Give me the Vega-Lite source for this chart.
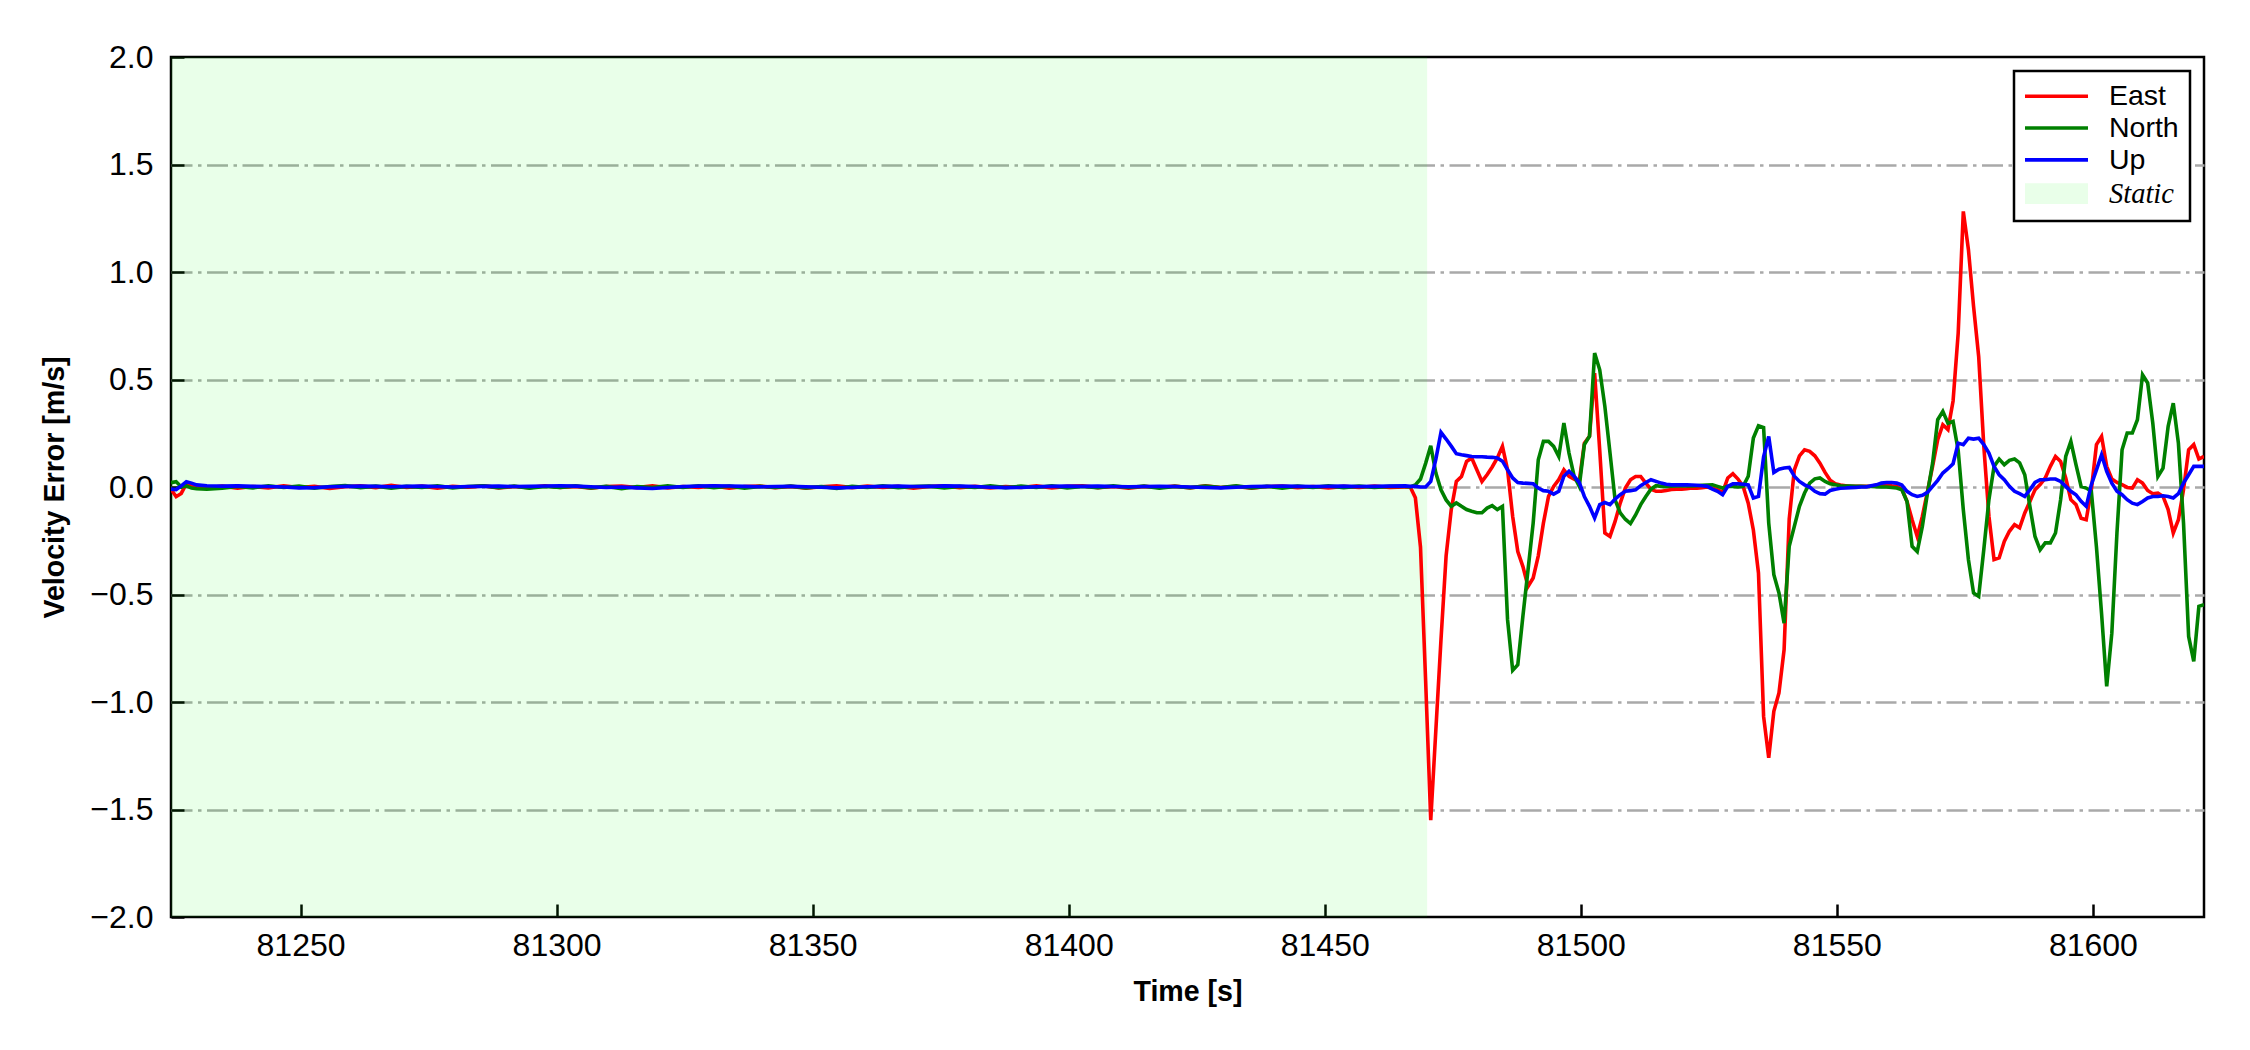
{
  "$schema": "https://vega.github.io/schema/vega-lite/v6.json",
  "width": 2033,
  "height": 860,
  "autosize": {"type": "none"},
  "padding": {"left": 171, "top": 57, "right": 46, "bottom": 133},
  "background": "white",
  "config": {
    "font": "Liberation Sans",
    "view": {"stroke": "black", "strokeWidth": 2.5},
    "legend": {
      "orient": "top-right",
      "offset": 14,
      "padding": 11,
      "fillColor": "white",
      "strokeColor": "black",
      "cornerRadius": 0,
      "symbolSize": 576,
      "symbolStrokeWidth": 3.6,
      "labelFontSize": 28.5,
      "labelFont": "Liberation Sans",
      "labelColor": "black",
      "labelOffset": 55.5,
      "rowPadding": 2.8
    }
  },
  "datasets": {
    "static": [{"start": 81224.7, "end": 81470, "label": "Static"}],
    "vel": [
      {"t":81224.7,"East":-0.01,"North":0.02,"Up":-0.01},
      {"t":81225.7,"East":-0.045,"North":0.025,"Up":-0.012},
      {"t":81226.7,"East":-0.03,"North":0.0,"Up":0.005},
      {"t":81227.7,"East":0.015,"North":0.005,"Up":0.025},
      {"t":81228.7,"East":0.01,"North":-0.005,"Up":0.018},
      {"t":81229.7,"East":0.0,"North":-0.008,"Up":0.01},
      {"t":81231.7,"East":-0.005,"North":-0.01,"Up":0.006},
      {"t":81234.7,"East":0.004,"North":-0.006,"Up":0.004},
      {"t":81237.7,"East":-0.006,"North":0.003,"Up":0.005},
      {"t":81240.7,"East":0.002,"North":-0.004,"Up":0.003},
      {"t":81243.7,"East":-0.004,"North":0.006,"Up":0.002},
      {"t":81246.7,"East":0.006,"North":-0.002,"Up":0.0},
      {"t":81249.7,"East":-0.002,"North":0.004,"Up":-0.004},
      {"t":81252.7,"East":0.003,"North":-0.006,"Up":-0.003},
      {"t":81255.7,"East":-0.007,"North":0.002,"Up":0.001},
      {"t":81258.7,"East":0.001,"North":0.007,"Up":0.003},
      {"t":81261.7,"East":0.005,"North":-0.003,"Up":0.004},
      {"t":81264.7,"East":-0.003,"North":0.004,"Up":0.003},
      {"t":81267.7,"East":0.008,"North":-0.005,"Up":0.001},
      {"t":81270.7,"East":-0.002,"North":0.003,"Up":0.003},
      {"t":81273.7,"East":0.004,"North":-0.002,"Up":0.004},
      {"t":81276.7,"East":-0.005,"North":0.006,"Up":0.002},
      {"t":81279.7,"East":0.003,"North":-0.004,"Up":0.0},
      {"t":81282.7,"East":-0.001,"North":0.002,"Up":0.002},
      {"t":81285.7,"East":0.005,"North":0.005,"Up":0.003},
      {"t":81288.7,"East":-0.004,"North":-0.003,"Up":0.004},
      {"t":81291.7,"East":0.002,"North":0.004,"Up":0.002},
      {"t":81294.7,"East":-0.003,"North":-0.006,"Up":0.003},
      {"t":81297.7,"East":0.006,"North":0.002,"Up":0.005},
      {"t":81300.7,"East":-0.002,"North":-0.002,"Up":0.006},
      {"t":81303.7,"East":0.003,"North":0.005,"Up":0.004},
      {"t":81306.7,"East":-0.005,"North":-0.004,"Up":0.001},
      {"t":81309.7,"East":0.002,"North":0.003,"Up":-0.002},
      {"t":81312.7,"East":0.004,"North":-0.008,"Up":0.0},
      {"t":81315.7,"East":-0.003,"North":0.002,"Up":-0.004},
      {"t":81318.7,"East":0.006,"North":-0.003,"Up":-0.007},
      {"t":81321.7,"East":-0.004,"North":0.005,"Up":-0.002},
      {"t":81324.7,"East":0.002,"North":-0.002,"Up":0.002},
      {"t":81327.7,"East":-0.002,"North":0.006,"Up":0.004},
      {"t":81330.7,"East":0.005,"North":-0.003,"Up":0.006},
      {"t":81333.7,"East":-0.006,"North":0.004,"Up":0.005},
      {"t":81336.7,"East":0.002,"North":-0.005,"Up":0.003},
      {"t":81339.7,"East":0.004,"North":0.003,"Up":0.001},
      {"t":81342.7,"East":-0.003,"North":-0.002,"Up":0.002},
      {"t":81345.7,"East":0.003,"North":0.004,"Up":0.003},
      {"t":81348.7,"East":-0.005,"North":-0.004,"Up":0.001},
      {"t":81351.7,"East":0.001,"North":0.002,"Up":-0.001},
      {"t":81354.7,"East":0.006,"North":-0.007,"Up":-0.004},
      {"t":81357.7,"East":-0.003,"North":0.003,"Up":-0.002},
      {"t":81360.7,"East":0.004,"North":-0.002,"Up":0.001},
      {"t":81363.7,"East":-0.002,"North":0.005,"Up":0.003},
      {"t":81366.7,"East":0.003,"North":-0.003,"Up":0.004},
      {"t":81369.7,"East":-0.006,"North":0.002,"Up":0.002},
      {"t":81372.7,"East":0.002,"North":0.004,"Up":0.003},
      {"t":81375.7,"East":0.005,"North":-0.004,"Up":0.005},
      {"t":81378.7,"East":-0.003,"North":0.003,"Up":0.004},
      {"t":81381.7,"East":0.003,"North":-0.002,"Up":0.002},
      {"t":81384.7,"East":-0.004,"North":0.005,"Up":-0.001},
      {"t":81387.7,"East":0.002,"North":-0.003,"Up":-0.003},
      {"t":81390.7,"East":-0.002,"North":0.004,"Up":-0.002},
      {"t":81393.7,"East":0.005,"North":-0.002,"Up":0.001},
      {"t":81396.7,"East":-0.004,"North":0.006,"Up":0.003},
      {"t":81399.7,"East":0.003,"North":-0.004,"Up":0.004},
      {"t":81402.7,"East":0.006,"North":0.002,"Up":0.003},
      {"t":81405.7,"East":-0.003,"North":-0.003,"Up":0.004},
      {"t":81408.7,"East":0.002,"North":0.005,"Up":0.002},
      {"t":81411.7,"East":-0.005,"North":-0.002,"Up":0.001},
      {"t":81414.7,"East":0.003,"North":0.004,"Up":0.002},
      {"t":81417.7,"East":-0.002,"North":-0.006,"Up":0.003},
      {"t":81420.7,"East":0.004,"North":0.003,"Up":0.002},
      {"t":81423.7,"East":-0.004,"North":-0.003,"Up":0.0},
      {"t":81426.7,"East":0.005,"North":0.004,"Up":-0.002},
      {"t":81429.7,"East":-0.002,"North":-0.002,"Up":-0.004},
      {"t":81432.7,"East":0.003,"North":0.005,"Up":-0.001},
      {"t":81435.7,"East":-0.005,"North":-0.004,"Up":0.002},
      {"t":81438.7,"East":0.002,"North":0.003,"Up":0.003},
      {"t":81441.7,"East":0.004,"North":-0.005,"Up":0.004},
      {"t":81444.7,"East":-0.003,"North":0.004,"Up":0.003},
      {"t":81447.7,"East":0.002,"North":-0.002,"Up":0.002},
      {"t":81450.7,"East":-0.004,"North":0.005,"Up":0.003},
      {"t":81453.7,"East":0.003,"North":-0.003,"Up":0.004},
      {"t":81456.7,"East":-0.002,"North":0.004,"Up":0.002},
      {"t":81459.7,"East":0.004,"North":-0.002,"Up":0.003},
      {"t":81462.7,"East":-0.002,"North":0.003,"Up":0.004},
      {"t":81465.7,"East":0.0,"North":0.002,"Up":0.005},
      {"t":81466.7,"East":0.0,"North":0.0,"Up":0.003},
      {"t":81467.7,"East":-0.05,"North":0.01,"Up":0.003},
      {"t":81468.7,"East":-0.28,"North":0.037,"Up":0.0},
      {"t":81469.7,"East":-0.9,"North":0.11,"Up":0.0},
      {"t":81470.7,"East":-1.55,"North":0.192,"Up":0.026},
      {"t":81471.7,"East":-1.13,"North":0.065,"Up":0.13},
      {"t":81472.7,"East":-0.71,"North":-0.013,"Up":0.254},
      {"t":81473.7,"East":-0.32,"North":-0.06,"Up":0.223},
      {"t":81474.7,"East":-0.106,"North":-0.09,"Up":0.19},
      {"t":81475.7,"East":0.026,"North":-0.074,"Up":0.155},
      {"t":81476.7,"East":0.049,"North":-0.09,"Up":0.15},
      {"t":81477.7,"East":0.119,"North":-0.105,"Up":0.146},
      {"t":81478.7,"East":0.135,"North":-0.113,"Up":0.142},
      {"t":81479.7,"East":0.08,"North":-0.12,"Up":0.141},
      {"t":81480.7,"East":0.026,"North":-0.12,"Up":0.141},
      {"t":81481.7,"East":0.057,"North":-0.098,"Up":0.139},
      {"t":81482.7,"East":0.093,"North":-0.087,"Up":0.138},
      {"t":81483.7,"East":0.135,"North":-0.105,"Up":0.135},
      {"t":81484.7,"East":0.189,"North":-0.09,"Up":0.12},
      {"t":81485.7,"East":0.08,"North":-0.617,"Up":0.08},
      {"t":81486.7,"East":-0.137,"North":-0.853,"Up":0.042},
      {"t":81487.7,"East":-0.3,"North":-0.827,"Up":0.021},
      {"t":81488.7,"East":-0.37,"North":-0.6,"Up":0.018},
      {"t":81489.7,"East":-0.462,"North":-0.385,"Up":0.017},
      {"t":81490.7,"East":-0.423,"North":-0.168,"Up":0.015},
      {"t":81491.7,"East":-0.32,"North":0.127,"Up":-0.005},
      {"t":81492.7,"East":-0.168,"North":0.212,"Up":-0.017},
      {"t":81493.7,"East":-0.044,"North":0.212,"Up":-0.02},
      {"t":81494.7,"East":0.003,"North":0.189,"Up":-0.033},
      {"t":81495.7,"East":0.034,"North":0.142,"Up":-0.02},
      {"t":81496.7,"East":0.08,"North":0.297,"Up":0.05},
      {"t":81497.7,"East":0.05,"North":0.158,"Up":0.073},
      {"t":81498.7,"East":0.037,"North":0.05,"Up":0.05},
      {"t":81499.7,"East":0.026,"North":0.003,"Up":0.021},
      {"t":81500.7,"East":0.204,"North":0.197,"Up":-0.044},
      {"t":81501.7,"East":0.236,"North":0.236,"Up":-0.09},
      {"t":81502.7,"East":0.53,"North":0.623,"Up":-0.144},
      {"t":81503.7,"East":0.17,"North":0.545,"Up":-0.082},
      {"t":81504.7,"East":-0.214,"North":0.375,"Up":-0.072},
      {"t":81505.7,"East":-0.23,"North":0.16,"Up":-0.082},
      {"t":81506.7,"East":-0.16,"North":-0.06,"Up":-0.056},
      {"t":81507.7,"East":-0.075,"North":-0.12,"Up":-0.036},
      {"t":81508.7,"East":-0.005,"North":-0.15,"Up":-0.02},
      {"t":81509.7,"East":0.034,"North":-0.17,"Up":-0.017},
      {"t":81510.7,"East":0.049,"North":-0.13,"Up":-0.013},
      {"t":81511.7,"East":0.049,"North":-0.082,"Up":0.006},
      {"t":81512.7,"East":0.018,"North":-0.044,"Up":0.021},
      {"t":81513.7,"East":-0.01,"North":-0.01,"Up":0.034},
      {"t":81514.7,"East":-0.02,"North":0.006,"Up":0.026},
      {"t":81515.7,"East":-0.02,"North":0.003,"Up":0.018},
      {"t":81516.7,"East":-0.016,"North":0.003,"Up":0.013},
      {"t":81517.7,"East":-0.012,"North":0.004,"Up":0.01},
      {"t":81518.7,"East":-0.01,"North":0.005,"Up":0.01},
      {"t":81519.7,"East":-0.01,"North":0.005,"Up":0.01},
      {"t":81520.7,"East":-0.008,"North":0.005,"Up":0.01},
      {"t":81521.7,"East":-0.005,"North":0.005,"Up":0.009},
      {"t":81522.7,"East":-0.005,"North":0.006,"Up":0.008},
      {"t":81523.7,"East":-0.003,"North":0.008,"Up":0.006},
      {"t":81524.7,"East":0.0,"North":0.009,"Up":0.003},
      {"t":81525.7,"East":-0.006,"North":0.01,"Up":-0.01},
      {"t":81526.7,"East":-0.013,"North":0.003,"Up":-0.02},
      {"t":81527.7,"East":-0.025,"North":-0.005,"Up":-0.036},
      {"t":81528.7,"East":0.042,"North":0.003,"Up":0.003},
      {"t":81529.7,"East":0.062,"North":0.003,"Up":0.015},
      {"t":81530.7,"East":0.037,"North":0.0,"Up":0.015},
      {"t":81531.7,"East":0.003,"North":0.003,"Up":0.013},
      {"t":81532.7,"East":-0.075,"North":0.05,"Up":0.01},
      {"t":81533.7,"East":-0.2,"North":0.228,"Up":-0.051},
      {"t":81534.7,"East":-0.4,"North":0.285,"Up":-0.044},
      {"t":81535.7,"East":-1.067,"North":0.277,"Up":0.14},
      {"t":81536.7,"East":-1.26,"North":-0.168,"Up":0.235},
      {"t":81537.7,"East":-1.043,"North":-0.408,"Up":0.068},
      {"t":81538.7,"East":-0.958,"North":-0.493,"Up":0.083},
      {"t":81539.7,"East":-0.757,"North":-0.633,"Up":0.088},
      {"t":81540.7,"East":-0.15,"North":-0.276,"Up":0.091},
      {"t":81541.7,"East":0.08,"North":-0.183,"Up":0.05},
      {"t":81542.7,"East":0.145,"North":-0.09,"Up":0.026},
      {"t":81543.7,"East":0.173,"North":-0.028,"Up":0.01},
      {"t":81544.7,"East":0.166,"North":0.018,"Up":0.0},
      {"t":81545.7,"East":0.145,"North":0.038,"Up":-0.02},
      {"t":81546.7,"East":0.111,"North":0.042,"Up":-0.031},
      {"t":81547.7,"East":0.068,"North":0.026,"Up":-0.033},
      {"t":81548.7,"East":0.031,"North":0.015,"Up":-0.016},
      {"t":81549.7,"East":0.015,"North":0.01,"Up":-0.01},
      {"t":81550.7,"East":0.009,"North":0.006,"Up":-0.006},
      {"t":81551.7,"East":0.006,"North":0.005,"Up":-0.005},
      {"t":81552.7,"East":0.003,"North":0.004,"Up":-0.003},
      {"t":81553.7,"East":0.003,"North":0.003,"Up":-0.002},
      {"t":81554.7,"East":0.003,"North":0.003,"Up":0.0},
      {"t":81555.7,"East":0.003,"North":0.002,"Up":0.0},
      {"t":81556.7,"East":0.005,"North":0.002,"Up":0.006},
      {"t":81557.7,"East":0.008,"North":0.001,"Up":0.01},
      {"t":81558.7,"East":0.01,"North":0.0,"Up":0.018},
      {"t":81559.7,"East":0.01,"North":0.0,"Up":0.021},
      {"t":81560.7,"East":0.006,"North":-0.002,"Up":0.021},
      {"t":81561.7,"East":0.003,"North":-0.005,"Up":0.018},
      {"t":81562.7,"East":-0.01,"North":-0.013,"Up":0.009},
      {"t":81563.7,"East":-0.067,"North":-0.067,"Up":-0.02},
      {"t":81564.7,"East":-0.152,"North":-0.276,"Up":-0.036},
      {"t":81565.7,"East":-0.23,"North":-0.3,"Up":-0.044},
      {"t":81566.7,"East":-0.137,"North":-0.183,"Up":-0.039},
      {"t":81567.7,"East":-0.02,"North":-0.028,"Up":-0.025},
      {"t":81568.7,"East":0.096,"North":0.111,"Up":0.003},
      {"t":81569.7,"East":0.22,"North":0.313,"Up":0.031},
      {"t":81570.7,"East":0.29,"North":0.352,"Up":0.065},
      {"t":81571.7,"East":0.267,"North":0.297,"Up":0.085},
      {"t":81572.7,"East":0.4,"North":0.305,"Up":0.108},
      {"t":81573.7,"East":0.716,"North":0.17,"Up":0.204},
      {"t":81574.7,"East":1.282,"North":-0.106,"Up":0.197},
      {"t":81575.7,"East":1.104,"North":-0.338,"Up":0.227},
      {"t":81576.7,"East":0.84,"North":-0.493,"Up":0.223},
      {"t":81577.7,"East":0.607,"North":-0.509,"Up":0.227},
      {"t":81578.7,"East":0.19,"North":-0.291,"Up":0.197},
      {"t":81579.7,"East":-0.136,"North":-0.059,"Up":0.158},
      {"t":81580.7,"East":-0.338,"North":0.096,"Up":0.096},
      {"t":81581.7,"East":-0.33,"North":0.13,"Up":0.057},
      {"t":81582.7,"East":-0.253,"North":0.104,"Up":0.034},
      {"t":81583.7,"East":-0.206,"North":0.124,"Up":0.003},
      {"t":81584.7,"East":-0.175,"North":0.13,"Up":-0.02},
      {"t":81585.7,"East":-0.19,"North":0.112,"Up":-0.031},
      {"t":81586.7,"East":-0.121,"North":0.057,"Up":-0.044},
      {"t":81587.7,"East":-0.067,"North":-0.09,"Up":-0.013},
      {"t":81588.7,"East":-0.013,"North":-0.23,"Up":0.021},
      {"t":81589.7,"East":0.011,"North":-0.292,"Up":0.034},
      {"t":81590.7,"East":0.042,"North":-0.26,"Up":0.034},
      {"t":81591.7,"East":0.096,"North":-0.26,"Up":0.037},
      {"t":81592.7,"East":0.142,"North":-0.214,"Up":0.037},
      {"t":81593.7,"East":0.119,"North":-0.059,"Up":0.026},
      {"t":81594.7,"East":0.042,"North":0.142,"Up":0.003},
      {"t":81595.7,"East":-0.059,"North":0.212,"Up":-0.02},
      {"t":81596.7,"East":-0.082,"North":0.104,"Up":-0.036},
      {"t":81597.7,"East":-0.145,"North":0.003,"Up":-0.067},
      {"t":81598.7,"East":-0.152,"North":-0.005,"Up":-0.09},
      {"t":81599.7,"East":-0.013,"North":-0.02,"Up":0.011},
      {"t":81600.7,"East":0.197,"North":-0.28,"Up":0.08},
      {"t":81601.7,"East":0.235,"North":-0.59,"Up":0.15},
      {"t":81602.7,"East":0.096,"North":-0.927,"Up":0.073},
      {"t":81603.7,"East":0.037,"North":-0.68,"Up":0.018},
      {"t":81604.7,"East":0.021,"North":-0.214,"Up":-0.02},
      {"t":81605.7,"East":0.011,"North":0.173,"Up":-0.036},
      {"t":81606.7,"East":-0.002,"North":0.251,"Up":-0.059},
      {"t":81607.7,"East":-0.005,"North":0.251,"Up":-0.075},
      {"t":81608.7,"East":0.034,"North":0.313,"Up":-0.082},
      {"t":81609.7,"East":0.018,"North":0.522,"Up":-0.067},
      {"t":81610.7,"East":-0.016,"North":0.484,"Up":-0.051},
      {"t":81611.7,"East":-0.031,"North":0.297,"Up":-0.044},
      {"t":81612.7,"East":-0.028,"North":0.049,"Up":-0.044},
      {"t":81613.7,"East":-0.044,"North":0.088,"Up":-0.041},
      {"t":81614.7,"East":-0.105,"North":0.282,"Up":-0.044},
      {"t":81615.7,"East":-0.214,"North":0.39,"Up":-0.051},
      {"t":81616.7,"East":-0.152,"North":0.204,"Up":-0.031},
      {"t":81617.7,"East":-0.013,"North":-0.167,"Up":0.018},
      {"t":81618.7,"East":0.173,"North":-0.695,"Up":0.057},
      {"t":81619.7,"East":0.197,"North":-0.811,"Up":0.096},
      {"t":81620.7,"East":0.13,"North":-0.555,"Up":0.096},
      {"t":81621.7,"East":0.142,"North":-0.547,"Up":0.096}
    ]
  },
  "layer": [
    {
      "data": {"name": "static"},
      "mark": {"type": "rect", "fill": "#00ff00", "fillOpacity": 0.085},
      "encoding": {
        "x": {
          "field": "start", "type": "quantitative",
          "scale": {"domain": [81224.7, 81621.7], "nice": false, "zero": false},
          "axis": {
            "title": "Time [s]",
            "values": [81250, 81300, 81350, 81400, 81450, 81500, 81550, 81600],
            "format": "d", "grid": false, "domain": false,
            "tickSize": -13, "tickWidth": 2.5, "tickColor": "black",
            "labelFontSize": 32, "labelColor": "black", "labelPadding": 26,
            "titleFontSize": 28.6, "titleFontWeight": "bold", "titleColor": "black", "titlePadding": 16
          }
        },
        "x2": {"field": "end"}
      }
    },
    {
      "data": {"name": "vel"},
      "transform": [{"fold": ["East", "North", "Up"], "as": ["series", "v"]}],
      "mark": {"type": "line", "strokeWidth": 3.6, "clip": true},
      "encoding": {
        "x": {
          "field": "t", "type": "quantitative",
          "scale": {"domain": [81224.7, 81621.7], "nice": false, "zero": false},
          "axis": {
            "title": "Time [s]",
            "values": [81250, 81300, 81350, 81400, 81450, 81500, 81550, 81600],
            "format": "d", "grid": false, "domain": false,
            "tickSize": -13, "tickWidth": 2.5, "tickColor": "black",
            "labelFontSize": 32, "labelColor": "black", "labelPadding": 26,
            "titleFontSize": 28.6, "titleFontWeight": "bold", "titleColor": "black", "titlePadding": 16
          }
        },
        "y": {
          "field": "v", "type": "quantitative",
          "scale": {"domain": [-2, 2], "nice": false, "zero": false},
          "axis": {
            "title": "Velocity Error [m/s]",
            "values": [-2, -1.5, -1, -0.5, 0, 0.5, 1, 1.5, 2],
            "format": ".1f", "domain": false,
            "grid": true, "gridColor": "#a9a9a9", "gridWidth": 2.5, "gridDash": [21, 5.5, 3.5, 5.5],
            "gridOpacity": {"condition": {"test": "abs(datum.value) >= 2", "value": 0}, "value": 1},
            "tickSize": -13, "tickWidth": 2.5, "tickColor": "black",
            "labelFontSize": 32, "labelColor": "black", "labelPadding": 31,
            "titleFontSize": 28.6, "titleFontWeight": "bold", "titleColor": "black", "titlePadding": 20
          }
        },
        "color": {
          "field": "series", "type": "nominal",
          "scale": {"domain": ["East", "North", "Up", "Static"], "range": ["#ff0000", "#008000", "#0000ff", "#e9ffe9"]},
          "legend": {
            "title": null,
            "encode": {
              "legend": {"update": {"strokeWidth": {"value": 2.5}}},
              "symbols": {"update": {
                "shape": {"signal": "datum.value === 'Static' ? 'M-1.1875,-0.7125H4.0625M-1.1875,-0.475H4.0625M-1.1875,-0.2375H4.0625M-1.1875,0H4.0625M-1.1875,0.2375H4.0625M-1.1875,0.475H4.0625M-1.1875,0.7125H4.0625' : 'M-1.1875,0H4.0625'"},
                "strokeWidth": {"value": 3.6}
              }},
              "labels": {"update": {
                "font": {"signal": "datum.value === 'Static' ? 'Liberation Serif' : 'Liberation Sans'"},
                "fontStyle": {"signal": "datum.value === 'Static' ? 'italic' : 'normal'"}
              }}
            }
          }
        }
      }
    }
  ]
}
